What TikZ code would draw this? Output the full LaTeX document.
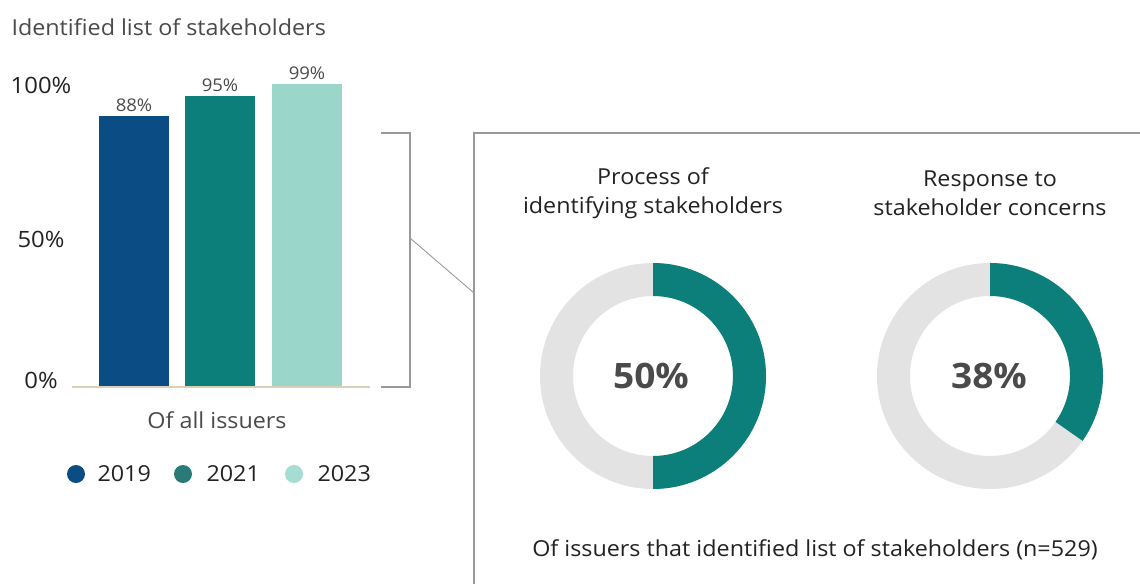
\documentclass[tikz,border=0pt]{standalone}
\usepackage{fontspec}
\setmainfont[FakeStretch=1.06]{Open Sans}
\usetikzlibrary{calc}

\definecolor{blue19}{HTML}{0C4C84}
\definecolor{teal21}{HTML}{0C7F7A}
\definecolor{mint23}{HTML}{9BD6CB}
\definecolor{dot21}{HTML}{2A7B77}
\definecolor{dot23}{HTML}{A6DDD2}
\definecolor{ringgray}{HTML}{E3E3E3}
\definecolor{txtgray}{HTML}{4A4A4A}
\definecolor{darktxt}{HTML}{222222}
\definecolor{linegray}{HTML}{999999}
\definecolor{axistan}{HTML}{DCCFB8}

\begin{document}
\begin{tikzpicture}[
    x=1pt, y=-1pt,
    bar/.style={fill=#1, draw=none, minimum width=70pt, inner sep=0, anchor=south},
    value label/.style={font=\fontsize{17.5}{20}\selectfont, text=txtgray, anchor=base},
    axis label/.style={font=\fontsize{22.5}{26}\selectfont, text=darktxt},
    legend dot/.style={circle, fill=#1, minimum size=18pt, inner sep=0},
    legend text/.style={font=\fontsize{22}{26}\selectfont, text=darktxt, anchor=west},
    head label/.style={font=\fontsize{22}{29}\selectfont, text=darktxt, align=center},
    ring value/.style={font=\fontsize{35}{40}\selectfont\bfseries, text=txtgray},
    frame line/.style={draw=linegray, line width=1.1pt}
]
\useasboundingbox (0,0) rectangle (1140,584);

% Title
\node[font=\fontsize{22}{26}\selectfont, text=txtgray, anchor=base west] (title) at (8,35) {Identified list of stakeholders};

% Axis labels
\node[axis label] (y100) at (41,85) {100\%};
\node[axis label] (y50) at (41,239) {50\%};
\node[axis label] (y0) at (41,380) {0\%};

% Bars
\node[bar=blue19, minimum height=271pt] (bar19) at (134,387) {};
\node[bar=teal21, minimum height=291pt] (bar21) at (220,387) {};
\node[bar=mint23, minimum height=303pt] (bar23) at (307,387) {};
\node[value label] (v19) at (134,111) {88\%};
\node[value label] (v21) at (220,91) {95\%};
\node[value label] (v23) at (307,79) {99\%};
\draw[axistan, line width=1.2pt] (72,387) -- (370,387);
\node[font=\fontsize{22}{26}\selectfont, text=txtgray] (allissuers) at (217,420) {Of all issuers};

% Legend
\node[legend dot=blue19] (d19) at (76,474) {};
\node[legend text] (t19) at (94,474) {2019};
\node[legend dot=dot21] (d21) at (183,474) {};
\node[legend text] (t21) at (203,474) {2021};
\node[legend dot=dot23] (d23) at (294,474) {};
\node[legend text] (t23) at (314,474) {2023};

% Bracket and link to panel
\coordinate (brA) at (381,133);
\coordinate (brB) at (410,133);
\coordinate (brC) at (410,387);
\coordinate (brD) at (381,387);
\coordinate (brMid) at (410,238);
\coordinate (pnJoin) at (474,293);
\draw[frame line] (brA) -- (brB) -- (brC) -- (brD);
\draw[draw=linegray, line width=0.9pt] (brMid) -- (pnJoin);

% Panel
\coordinate (pnBot) at (474,584);
\coordinate (pnTop) at (474,133);
\coordinate (pnRight) at (1140,133);
\draw[frame line] (pnBot) -- (pnTop) -- (pnRight);

% Donut 1
\coordinate (c1) at (653,376);
\fill[ringgray, even odd rule] (c1) circle (113pt) (c1) circle (80pt);
\fill[teal21] ($(c1)+(90:113pt)$) arc (90:-90:113pt) -- ($(c1)+(-90:80pt)$) arc (-90:90:80pt) -- cycle;
\node[ring value] (r1) at (651,376) {50\%};
\node[head label] (h1) at (653,193) {Process of\\identifying stakeholders};

% Donut 2
\coordinate (c2) at (990,376);
\fill[ringgray, even odd rule] (c2) circle (113pt) (c2) circle (80pt);
\fill[teal21] ($(c2)+(90:113pt)$) arc (90:-35:113pt) -- ($(c2)+(-35:80pt)$) arc (-35:90:80pt) -- cycle;
\node[ring value] (r2) at (989,376) {38\%};
\node[head label] (h2) at (990,193) {Response to\\stakeholder concerns};

% Footnote
\node[font=\fontsize{22}{26}\selectfont, text=darktxt] (foot) at (815,550) {Of issuers that identified list of stakeholders (n=529)};

\end{tikzpicture}
\end{document}
